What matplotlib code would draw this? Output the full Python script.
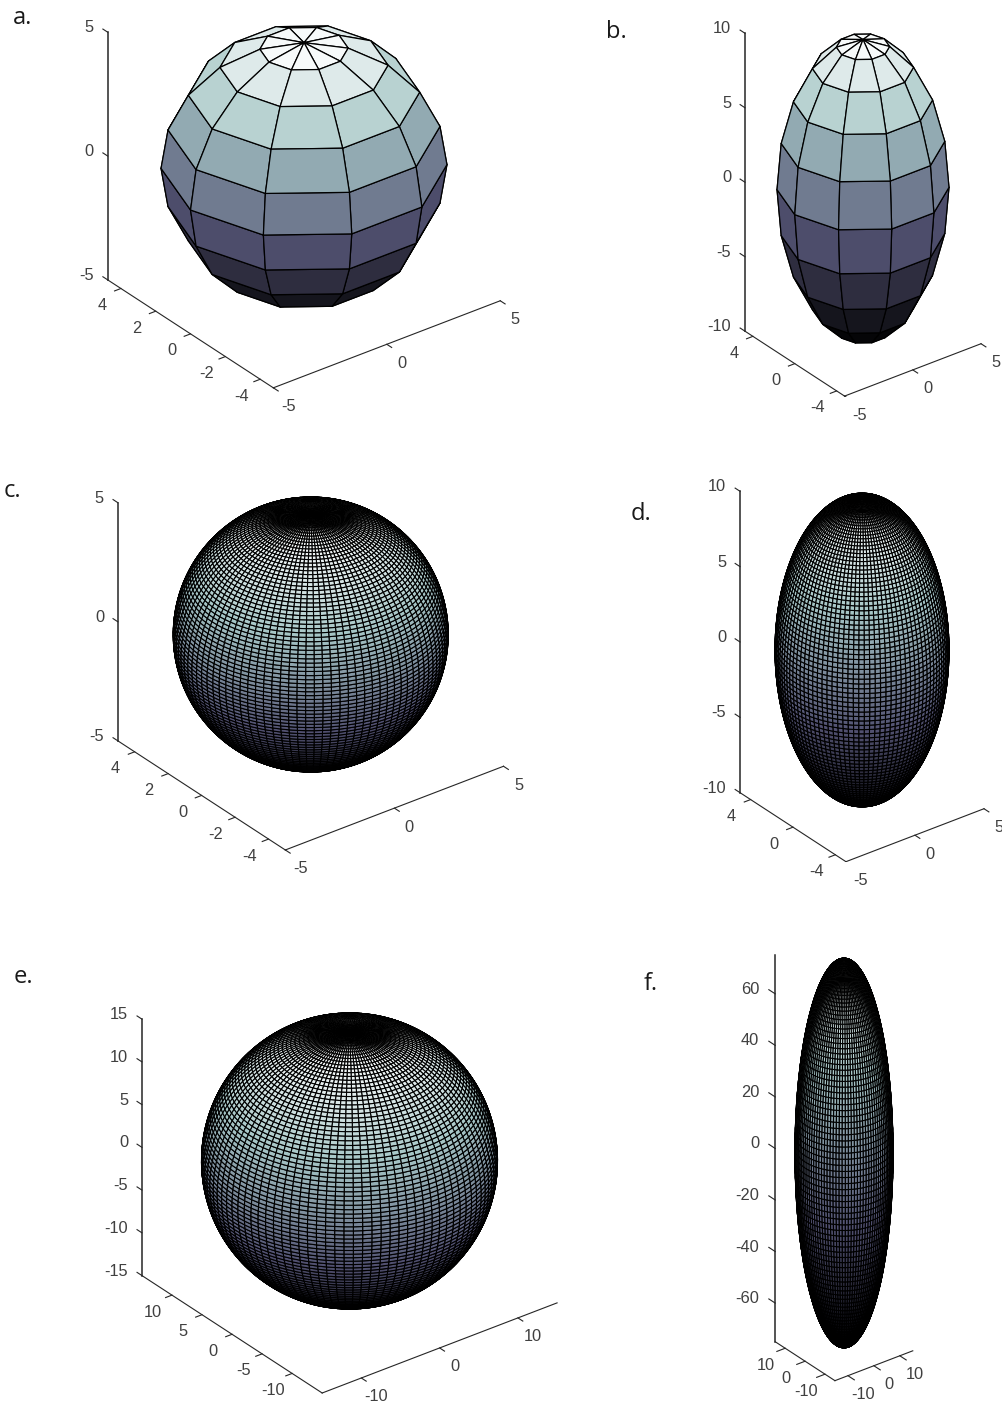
#Import libraries
import numpy as np
import matplotlib
matplotlib.use('Agg')
import matplotlib.pyplot as plt
from mpl_toolkits.mplot3d import proj3d
#/Import libraries

W=1003;H=1403
EL=30;AZ=-127.5 #matlab default view (az=-37.5)

#Data#
names=['a.','b.','c.','d.','e.','f.']
radius_xy=[5,5,5,5,15,15]
radius_z=[5,10,5,10,15,75]
faces=[10,10,100,100,100,100]
x_ticks=[[-5,0,5],[-5,0,5],[-5,0,5],[-5,0,5],[-10,0,10],[-10,0,10]]
y_ticks=[[-4,-2,0,2,4],[-4,0,4],[-4,-2,0,2,4],[-4,0,4],[-10,-5,0,5,10],[-10,0,10]]
z_ticks=[[-5,0,5],[-10,-5,0,5,10],[-5,0,5],[-10,-5,0,5,10],[-15,-10,-5,0,5,10,15],[-60,-40,-20,0,20,40,60]]
#/Data#

#Layout: centre of each ellipsoid in pixels, pixels per data unit
centre_px=[(304,166.5),(863,188.5),(310.7,634.5),(862,650),(349.5,1161),(844,1153)]
scale_px=[28.6,17.2,27.5,17.4,9.87,3.27]
z_stretch=[1,1,1,1,1,0.91]
tick_px=[8,8,8,8,8,10.5]
name_px=[(23,18),(616,32),(12,491),(641,514),(23,977),(651,984)]

grey='#262626'
text_grey='#404040'
fig=plt.figure(figsize=(W/100,H/100),dpi=100,facecolor='white')

def to_px(ax,x,y,z):
  px,py,_=proj3d.proj_transform(x,y,z,ax.get_proj())
  dx,dy=ax.transData.transform((px,py))
  return dx,H-dy

def place(ax,left,bottom,size):
  ax.set_position([left/W,bottom/H,size/W,size/H])
  ax.apply_aspect()

def label(x,y,t,ha='center'):
  fig.text(x/W,1-y/H,str(t),ha=ha,va='center',fontsize=11.8,color=text_grey,family='Liberation Sans')

for i in range(6):
  rx=radius_xy[i];rz=radius_z[i];n=faces[i]

  #ellipsoid mesh, same as matlab ellipsoid(): poles at +-z, coloured by z
  theta=np.pi*np.arange(-n,n+1,2)/n
  phi=np.pi/2*np.arange(-n,n+1,2)/n
  X=rx*np.outer(np.cos(phi),np.cos(theta))
  Y=rx*np.outer(np.cos(phi),np.sin(theta))
  Z=rz*np.outer(np.sin(phi),np.ones_like(theta))
  colors=plt.cm.bone((Z+rz)/(2*rz))
  ry=Y.max() #limits are tight to the mesh, so y stops short of rx on the coarse ones

  ax=fig.add_axes([0,0,0.5,0.5],projection='3d',proj_type='ortho')
  ax.view_init(elev=EL,azim=AZ)
  ax.set_xlim(-rx,rx);ax.set_ylim(-ry,ry);ax.set_zlim(-rz,rz)
  ax.set_box_aspect((rx,ry,rz*z_stretch[i]))
  ax.set_axis_off()
  lw=0.9 if n<50 else 0.8
  ax.plot_surface(X,Y,Z,facecolors=colors,edgecolor='k',linewidth=lw,rstride=1,cstride=1,shade=False,antialiased=True)

  #size the axes from a trial position so the scale and the centre come out right
  place(ax,0,0,600)
  p0=to_px(ax,0,0,0);p1=to_px(ax,1,0,0)
  size=600*scale_px[i]/(abs(p1[0]-p0[0])/np.cos(np.radians(37.5)))
  place(ax,0,0,size)
  p0=to_px(ax,0,0,0)
  place(ax,centre_px[i][0]-p0[0],p0[1]-centre_px[i][1],size)

  #box axes
  tl=tick_px[i]/scale_px[i]
  ax.plot([-rx,-rx],[ry,ry],[-rz,rz],color=grey,lw=1.1)
  ax.plot([-rx,-rx],[-ry,ry],[-rz,-rz],color=grey,lw=0.8)
  ax.plot([-rx,rx],[-ry,-ry],[-rz,-rz],color=grey,lw=0.8)

  for t in x_ticks[i]:
    ax.plot([t,t],[-ry,-ry-tl],[-rz,-rz],color=grey,lw=0.8)
    dx,dy=to_px(ax,t,-ry,-rz)
    label(dx+15,dy+19,t)
  for t in y_ticks[i]:
    ax.plot([-rx,-rx-tl],[t,t],[-rz,-rz],color=grey,lw=0.8)
    dx,dy=to_px(ax,-rx,t,-rz)
    label(dx-19,dy+17,t)
  for t in z_ticks[i]:
    ax.plot([-rx,-rx],[ry,ry+tl],[t,t],color=grey,lw=0.8)
    dx,dy=to_px(ax,-rx,ry,t)
    label(dx-tick_px[i]*0.8-7.5,dy-4.5,t,ha='right')

  fig.text(name_px[i][0]/W,1-name_px[i][1]/H,names[i],ha='center',va='center',fontsize=17,color='#1a1a1a',family='Open Sans')

fig.savefig('out.png',dpi=100)
